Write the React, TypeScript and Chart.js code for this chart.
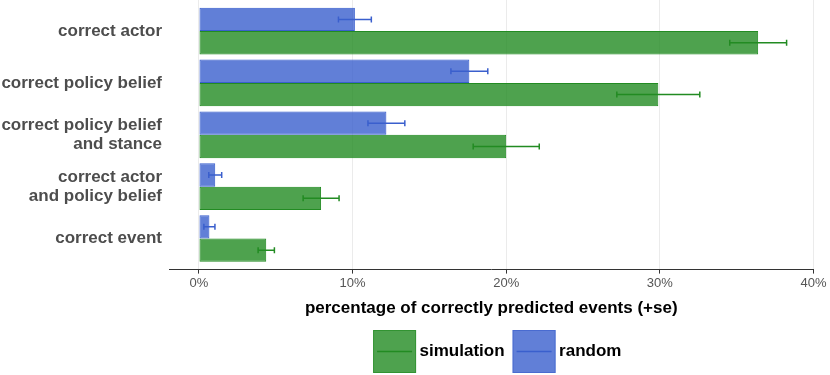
import React, { useEffect, useRef } from "react";
import { Chart, registerables } from "chart.js";

Chart.register(...registerables);

const FONT = '"Liberation Sans", Arial, Helvetica, sans-serif';

const categories = [
  "correct actor",
  "correct policy belief",
  "correct policy belief\nand stance",
  "correct actor\nand policy belief",
  "correct event",
];
const simulationValues = [36.4, 29.9, 20.0, 7.95, 4.38];
const simulationSE = [1.85, 2.7, 2.15, 1.17, 0.53];
const randomValues = [10.15, 17.6, 12.2, 1.06, 0.68];
const randomSE = [1.07, 1.2, 1.2, 0.42, 0.36];
const xTickValues = [0, 10, 20, 30, 40];
const xTickLabels = ["0%", "10%", "20%", "30%", "40%"];

const GREEN = "rgb(34,139,34)";
const GREEN_FILL = "rgba(34,139,34,0.8)";
const BLUE = "rgb(58,95,205)";
const BLUE_FILL = "rgba(58,95,205,0.8)";

const errorBarPlugin = {
  id: "errorBars",
  afterDatasetsDraw(chart: any) {
    const ctx = chart.ctx;
    const xs = chart.scales.x;
    chart.data.datasets.forEach((ds: any, di: number) => {
      const meta = chart.getDatasetMeta(di);
      if (meta.hidden) return;
      meta.data.forEach((el: any, j: number) => {
        const v = ds.data[j].x;
        const se = ds.errors[j];
        const x0 = xs.getPixelForValue(v - se);
        const x1 = xs.getPixelForValue(v + se);
        const y = el.y;
        ctx.save();
        ctx.strokeStyle = ds.errorColor;
        ctx.lineWidth = 1.5;
        ctx.beginPath();
        ctx.moveTo(x0, y);
        ctx.lineTo(x1, y);
        ctx.moveTo(x0, y - 3);
        ctx.lineTo(x0, y + 3);
        ctx.moveTo(x1, y - 3);
        ctx.lineTo(x1, y + 3);
        ctx.stroke();
        ctx.restore();
      });
    });
  },
};

const legendKeyPlugin = {
  id: "legendKeys",
  afterLayout(chart: any) {
    const lg = chart.legend;
    if (!lg) return;
    lg.left += 6;
    lg.right += 6;
  },
  afterDraw(chart: any) {
    const lg = chart.legend;
    if (!lg || !lg.legendItems || !lg.legendHitBoxes) return;
    const ctx = chart.ctx;
    lg.legendItems.forEach((item: any, k: number) => {
      const hb = lg.legendHitBoxes[k];
      const ds = chart.data.datasets[item.datasetIndex];
      const w = 43;
      const h = 43;
      const x = hb.left;
      const y = hb.top;
      ctx.save();
      ctx.fillStyle = ds.backgroundColor;
      ctx.fillRect(x, y, w, h);
      ctx.strokeStyle = ds.legendBorder;
      ctx.lineWidth = 1;
      ctx.strokeRect(x + 0.5, y + 0.5, w - 1, h - 1);
      ctx.strokeStyle = ds.errorColor;
      ctx.lineWidth = 1.5;
      ctx.beginPath();
      ctx.moveTo(x + 4, y + h / 2);
      ctx.lineTo(x + w - 4, y + h / 2);
      ctx.stroke();
      ctx.restore();
    });
  },
};

export default function App() {
  const ref = useRef<HTMLCanvasElement | null>(null);

  useEffect(() => {
    if (!ref.current) return;
    const chart = new Chart(ref.current, {
      type: "bar",
      data: {
        datasets: [
          {
            label: "random",
            data: randomValues.map((v, i) => ({ x: v, y: i })),
            backgroundColor: BLUE_FILL,
            borderColor: BLUE,
            borderWidth: 1,
            borderSkipped: false,
            errors: randomSE,
            errorColor: BLUE,
            legendBorder: "rgba(58,95,205,0.6)",
          } as any,
          {
            label: "simulation",
            data: simulationValues.map((v, i) => ({ x: v, y: i })),
            backgroundColor: GREEN_FILL,
            borderColor: GREEN,
            borderWidth: 1,
            borderSkipped: false,
            errors: simulationSE,
            errorColor: GREEN,
            legendBorder: "rgba(34,139,34,0.6)",
          } as any,
        ],
      },
      options: {
        responsive: false,
        animation: false,
        indexAxis: "y",
        layout: { padding: { left: 0, right: 16, top: 0, bottom: 0 } },
        datasets: {
          bar: { categoryPercentage: 0.9, barPercentage: 1.0 },
        },
        scales: {
          x: {
            type: "linear",
            min: -1.95,
            max: 40,
            afterBuildTicks: (s: any) => {
              s.ticks = xTickValues.map((v) => ({ value: v }));
            },
            ticks: {
              callback: (_v: any, i: number) => xTickLabels[i],
              font: { family: FONT, size: 13, lineHeight: 1 },
              color: "#555555",
              padding: 3.5,
              maxRotation: 0,
            },
            grid: {
              color: "#ebebeb",
              lineWidth: 1,
              tickLength: 4,
              tickColor: "#333333",
              drawTicks: true,
            },
            border: { display: true, color: "#333333", width: 1 },
            title: {
              display: true,
              text: "percentage of correctly predicted events (+se)",
              font: { family: FONT, size: 17, weight: "bold", lineHeight: 1.2 },
              color: "#000000",
              padding: { top: 5, bottom: 3 },
            },
          },
          y: {
            type: "linear",
            reverse: true,
            offset: false,
            min: -0.6,
            max: 4.6,
            afterBuildTicks: (s: any) => {
              s.ticks = categories.map((_c, i) => ({ value: i }));
            },
            afterFit: (s: any) => {
              s.width = 169;
              s.paddingTop = 0;
              s.paddingBottom = 0;
            },
            ticks: {
              callback: (v: any) => {
                const c = categories[Math.round(Number(v))] || "";
                const parts = c.split("\n");
                return parts.length > 1 ? parts : parts[0];
              },
              font: { family: FONT, size: 17, weight: "bold", lineHeight: 1.1 },
              color: "#4d4d4d",
              padding: 7,
            },
            grid: { display: false, drawTicks: false, offset: false },
            border: { display: false },
          },
        },
        plugins: {
          legend: {
            position: "bottom",
            fullSize: false,
            reverse: true,
            maxHeight: 53,
            labels: {
              boxWidth: 38,
              boxHeight: 43,
              padding: 8,
              color: "#000000",
              font: { family: FONT, size: 17, weight: "bold" },
              generateLabels: (c: any) =>
                c.data.datasets.map((ds: any, i: number) => ({
                  text: ds.label,
                  fillStyle: "rgba(0,0,0,0)",
                  strokeStyle: "rgba(0,0,0,0)",
                  lineWidth: 0,
                  hidden: false,
                  datasetIndex: i,
                })),
            },
          },
          tooltip: { enabled: false },
        },
      } as any,
      plugins: [errorBarPlugin, legendKeyPlugin],
    });
    return () => chart.destroy();
  }, []);

  return (
    <div style={{ position: "absolute", left: 0, top: 0, width: 830, height: 375 }}>
      <canvas ref={ref} width={830} height={375} style={{ display: "block" }} />
    </div>
  );
}
